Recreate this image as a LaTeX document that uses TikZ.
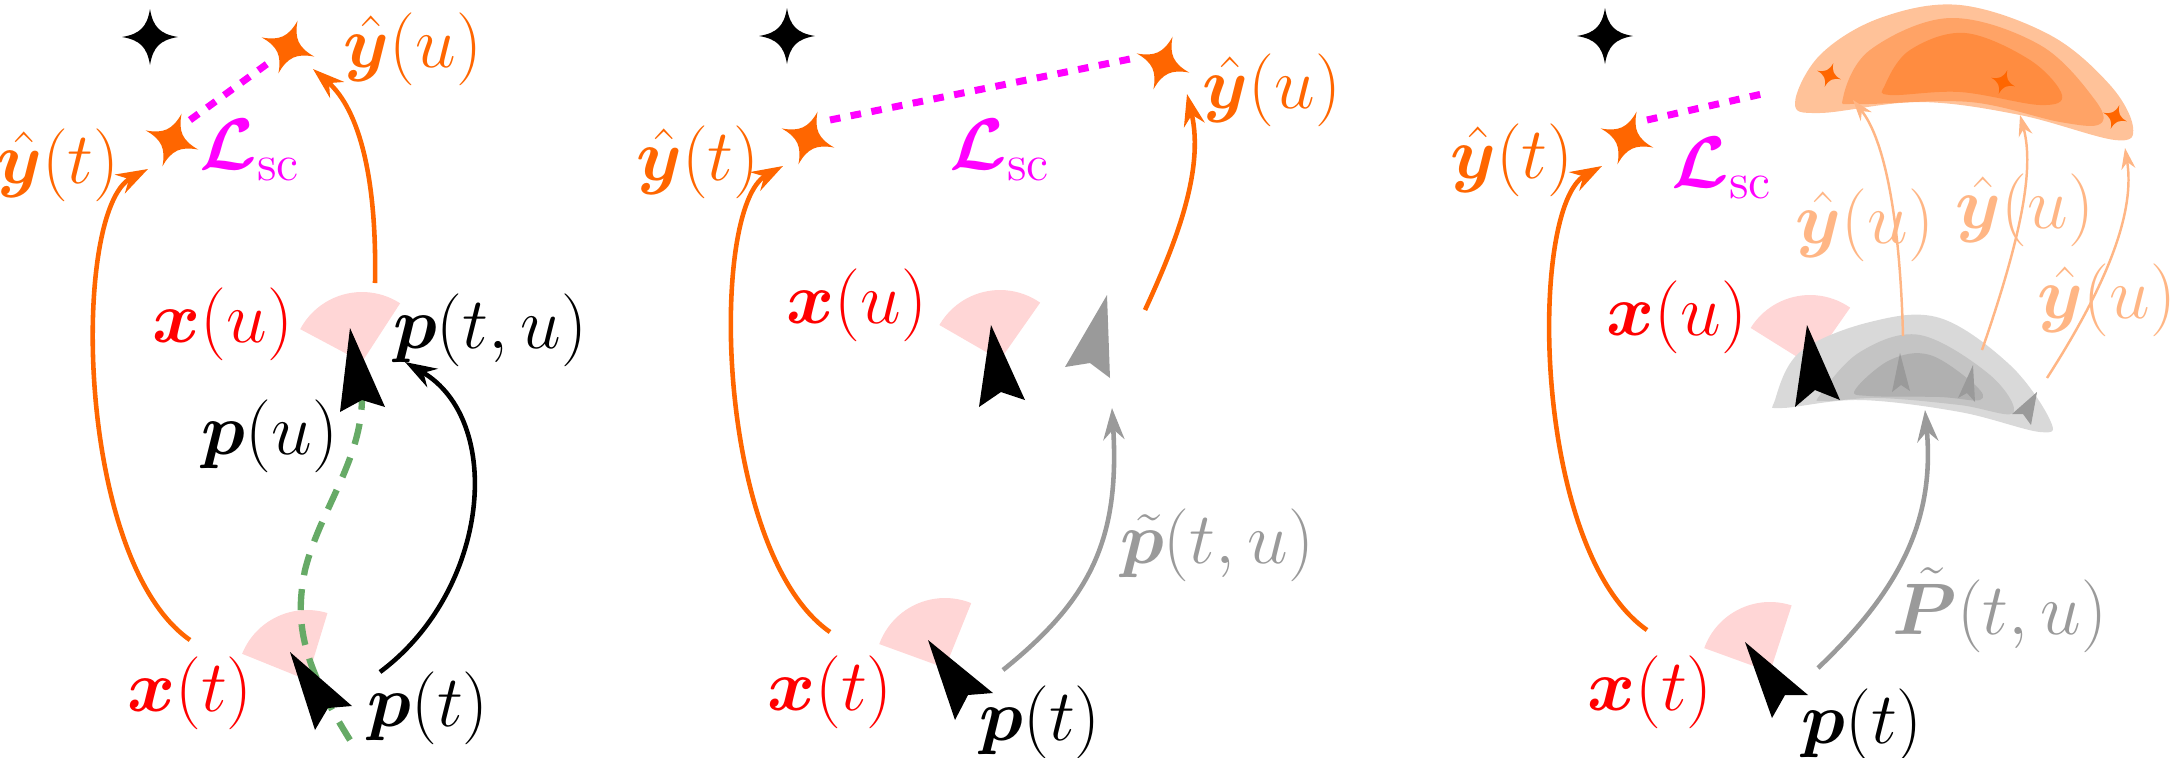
\documentclass[tikz,border=0pt]{standalone}
\usepackage{amsmath,bm}
\usetikzlibrary{arrows.meta}
\definecolor{ored}{HTML}{FF6600}
\definecolor{xred}{HTML}{FF0000}
\definecolor{mag}{HTML}{FF00FF}
\definecolor{pinkw}{HTML}{FFD6D6}
\definecolor{gre}{HTML}{66AA66}
\definecolor{gry}{HTML}{9A9A9A}
\definecolor{lor}{HTML}{FFB685}
\tikzset{
  fstar/.pic={\path[pic actions] (0,-28) .. controls (3,-10) and (10,-3) .. (28,0) .. controls (10,3) and (3,10) .. (0,28) .. controls (-3,10) and (-10,3) .. (-28,0) .. controls (-10,-3) and (-3,-10) .. (0,-28) -- cycle;},
  lbl/.style={font=\fontsize{20}{24}\selectfont, inner sep=0pt},
  oarr/.style={ored, line width=1.3pt, -{Stealth[length=9pt,width=6pt]}},
  garr/.style={gry, line width=1.3pt, -{Stealth[length=9pt,width=6pt]}},
  karr/.style={black, line width=1.3pt, -{Stealth[length=9pt,width=6pt]}},
  larr/.style={lor, line width=0.7pt, -{Stealth[length=6pt,width=4pt]}},
  lossline/.style={mag, line width=2pt, dash pattern=on 3pt off 3pt},
  wedge/.style={pinkw},
}
\begin{document}
\begin{tikzpicture}[x=0.01cm,y=-0.01cm]
\useasboundingbox (0,0) rectangle (2175,757);
% ---------- wedges
\foreach \cx/\cy/\a/\b in {362/362/57/152, 307/680/73/158, 1000/360/55/150, 945/668/68/160, 1810/365/55/148, 1770/672/72/160}
  \fill[wedge] (\cx,\cy) -- +({cos(\a)*70},{-sin(\a)*70}) arc[start angle=-\a,end angle=-\b,radius=70] -- cycle;
% ================= PANEL 1
\path (150,37) pic[fill=black] {fstar};
\path (288,47) pic[fill=ored,rotate=-20] {fstar} coordinate (yu1);
\path (172,140) pic[fill=ored,rotate=-20] {fstar} coordinate (yt1);
\node[lbl,text=ored] (lyu1) at (413,49) {$\hat{\bm{y}}(u)$};
\node[lbl,text=ored] (lyt1) at (58,165) {$\hat{\bm{y}}(t)$};
\node[lbl,text=mag] (ls1) at (250,150) {$\bm{\mathcal{L}}_{\mathrm{sc}}$};
\coordinate (d1a) at (190,120); \coordinate (d1b) at (267,64);
\draw[lossline] (d1a) -- (d1b);
\node[lbl,text=xred] (xu1) at (223,324) {$\bm{x}(u)$};
\node[lbl] (ptu1) at (490,330) {$\bm{p}(t,u)$};
\node[lbl] (pu1) at (270,436) {$\bm{p}(u)$};
\node[lbl,text=xred] (xt1) at (190,693) {$\bm{x}(t)$};
\node[lbl] (pt1) at (428,708) {$\bm{p}(t)$};
\coordinate (a1) at (190,640); \coordinate (b1) at (148,169);
\draw[oarr] (a1) .. controls (75,560) and (71,210) .. (b1);
\coordinate (a2) at (375,283); \coordinate (b2) at (313,69);
\draw[oarr] (a2) .. controls (377,180) and (360,110) .. (b2);
\coordinate (a3) at (380,672); \coordinate (b3) at (405,362);
\draw[karr] (a3) .. controls (490,590) and (505,420) .. (b3);
\coordinate (g1) at (350,740); \coordinate (g2) at (362,397);
\draw[gre, line width=1.8pt, dash pattern=on 6pt off 4pt] (g1) .. controls (300,660) and (295,620) .. (305,570) .. controls (320,510) and (362,460) .. (g2);
\fill (350,328) -- (340,412) -- (362,400) -- (385,407) -- cycle;
\fill (290,652) -- (315,730) -- (328,708) -- (352,706) -- cycle;
% ================= PANEL 2
\path (787,36) pic[fill=black] {fstar};
\path (808,138) pic[fill=ored,rotate=-20] {fstar} coordinate (yt2);
\path (1163,63) pic[fill=ored,rotate=-20] {fstar} coordinate (yu2);
\node[lbl,text=ored] (lyt2) at (698,162) {$\hat{\bm{y}}(t)$};
\node[lbl,text=ored] (lyu2) at (1272,90) {$\hat{\bm{y}}(u)$};
\node[lbl,text=mag] (ls2) at (1000,150) {$\bm{\mathcal{L}}_{\mathrm{sc}}$};
\coordinate (d2a) at (830,120); \coordinate (d2b) at (1135,58);
\draw[lossline] (d2a) -- (d2b);
\node[lbl,text=xred] (xu2) at (857,305) {$\bm{x}(u)$};
\node[lbl,text=xred] (xt2) at (830,692) {$\bm{x}(t)$};
\node[lbl] (pt2) at (1040,722) {$\bm{p}(t)$};
\node[lbl,text=gry] (ptl2) at (1217,545) {$\tilde{\bm{p}}(t,u)$};
\coordinate (a4) at (830,632); \coordinate (b4) at (783,166);
\draw[oarr] (a4) .. controls (715,552) and (709,207) .. (b4);
\coordinate (a5) at (1145,310); \coordinate (b5) at (1187,94);
\draw[oarr] (a5) .. controls (1175,245) and (1205,170) .. (b5);
\coordinate (a6) at (1003,670); \coordinate (b6) at (1112,408);
\draw[garr] (a6) .. controls (1090,600) and (1120,540) .. (b6);
\fill (991,325) -- (979,407) -- (1001,392) -- (1025,400) -- cycle;
\fill[gry] (1107,295) -- (1065,367) -- (1090,363) -- (1110,378) -- cycle;
\fill (928,640) -- (955,720) -- (968,695) -- (993,693) -- cycle;
% ================= PANEL 3
\path (1605,36) pic[fill=black] {fstar};
\path (1627,138) pic[fill=ored,rotate=-20] {fstar} coordinate (yt3);
\node[lbl,text=ored] (lyt3) at (1512,160) {$\hat{\bm{y}}(t)$};
\node[lbl,text=mag] (ls3) at (1722,168) {$\bm{\mathcal{L}}_{\mathrm{sc}}$};
\coordinate (d3a) at (1647,120); \coordinate (d3b) at (1762,94);
\draw[lossline] (d3a) -- (d3b);
% orange blob
\fill[fill=ored!40] plot[smooth cycle, tension=0.6] coordinates {(1795,103) (1820,55) (1880,18) (1960,5) (2050,35) (2110,85) (2133,127) (2115,140) (2020,115) (1920,102) (1820,113)};
\fill[fill=ored!60] plot[smooth cycle, tension=0.6] coordinates {(1843,98) (1870,50) (1950,18) (2040,45) (2095,100) (2100,124) (2060,122) (1970,102) (1860,104)};
\fill[fill=ored!75] plot[smooth cycle, tension=0.6] coordinates {(1885,85) (1910,50) (1965,33) (2030,60) (2062,95) (2040,105) (1960,92) (1890,95)};
\path (1829,75) pic[fill=ored,scale=0.45,rotate=-20] {fstar};
\path (2003,82) pic[fill=ored,scale=0.45,rotate=-20] {fstar};
\path (2115,117) pic[fill=ored,scale=0.45,rotate=-20] {fstar};
% gray blob
\fill[fill=black!15] plot[smooth cycle, tension=0.6] coordinates {(1775,400) (1800,352) (1870,322) (1940,318) (2010,365) (2050,420) (2040,432) (1960,412) (1860,400) (1782,408)};
\fill[fill=black!23] plot[smooth cycle, tension=0.6] coordinates {(1820,395) (1860,352) (1920,335) (1990,375) (2013,413) (1960,405) (1880,398) (1825,401)};
\fill[fill=black!31] plot[smooth cycle, tension=0.6] coordinates {(1855,390) (1890,360) (1930,355) (1975,385) (1980,400) (1940,397) (1870,396)};
\fill[gry] (1900,353) -- (1892,392) -- (1901,385) -- (1910,391) -- cycle;
\fill[gry] (1973,365) -- (1958,398) -- (1967,393) -- (1975,402) -- cycle;
\fill[gry] (2037,392) -- (2012,414) -- (2023,414) -- (2031,425) -- cycle;
\node[lbl,text=xred] (xu3) at (1677,317) {$\bm{x}(u)$};
\node[lbl,text=xred] (xt3) at (1650,692) {$\bm{x}(t)$};
\node[lbl] (pt3) at (1862,725) {$\bm{p}(t)$};
\node[lbl,text=gry] (ptl3) at (2000,610) {$\tilde{\bm{P}}(t,u)$};
\node[lbl,text=lor] (lu3a) at (1865,225) {$\hat{\bm{y}}(u)$};
\node[lbl,text=lor] (lu3b) at (2025,210) {$\hat{\bm{y}}(u)$};
\node[lbl,text=lor] (lu3c) at (2107,300) {$\hat{\bm{y}}(u)$};
\coordinate (c1) at (1903,336); \coordinate (e1) at (1853,100);
\coordinate (c2) at (1982,350); \coordinate (e2) at (2020,115);
\coordinate (c3) at (2047,378); \coordinate (e3) at (2125,148);
\draw[larr] (c1) .. controls (1900,220) and (1885,140) .. (e1);
\draw[larr] (c2) .. controls (2020,240) and (2035,170) .. (e2);
\draw[larr] (c3) .. controls (2110,280) and (2135,210) .. (e3);
\coordinate (a7) at (1647,630); \coordinate (b7) at (1602,166);
\draw[oarr] (a7) .. controls (1532,550) and (1528,207) .. (b7);
\coordinate (a8) at (1818,668); \coordinate (b8) at (1925,410);
\draw[garr] (a8) .. controls (1900,590) and (1935,520) .. (b8);
\fill (1807,325) -- (1795,407) -- (1815,390) -- (1840,400) -- cycle;
\fill (1745,642) -- (1772,718) -- (1785,695) -- (1808,695) -- cycle;
\end{tikzpicture}
\end{document}
